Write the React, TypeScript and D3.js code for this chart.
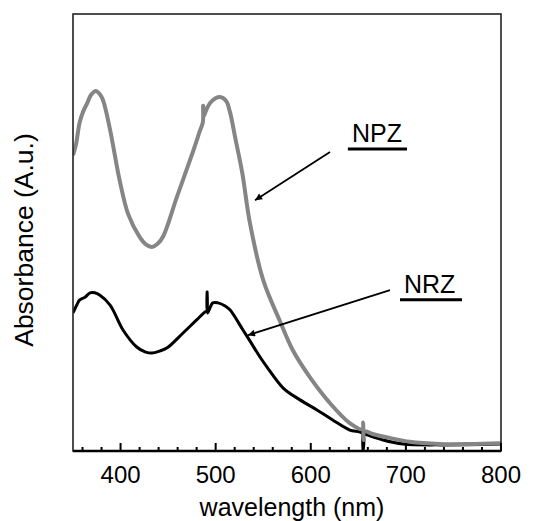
import React from "react";
import * as d3 from "d3";

const npzWavelength = [350, 353, 357, 360.5, 364.7, 369, 374, 378, 381.5, 389, 399, 408, 420, 427, 433, 439, 445, 459, 475, 483.5, 486.5, 486.8, 487.2, 491, 496, 504.5, 511, 515, 521, 528, 536, 550, 567.6, 581, 599, 620, 641, 654.5, 655, 655.5, 656, 665, 683, 704, 736, 767, 800];
const npzAbsorbance = [0.677, 0.70, 0.752, 0.776, 0.795, 0.815, 0.824, 0.817, 0.803, 0.735, 0.62, 0.542, 0.49, 0.472, 0.467, 0.474, 0.492, 0.58, 0.678, 0.733, 0.752, 0.79, 0.765, 0.785, 0.801, 0.81, 0.801, 0.776, 0.712, 0.636, 0.522, 0.391, 0.297, 0.231, 0.169, 0.11, 0.064, 0.05, 0.065, 0.025, 0.045, 0.039, 0.03, 0.021, 0.016, 0.016, 0.018];

const nrzWavelength = [350, 354, 357, 362.6, 368, 373, 378, 389, 402.6, 417, 425.7, 433, 441.5, 449, 465.7, 480, 488.8, 490.6, 491, 491.4, 497, 502.5, 510, 515, 528.7, 536, 546.6, 554, 571, 588.7, 606.5, 623, 641, 654.6, 655, 655.4, 659, 676, 697, 736, 800];
const nrzAbsorbance = [0.316, 0.334, 0.346, 0.352, 0.362, 0.362, 0.357, 0.334, 0.277, 0.238, 0.227, 0.224, 0.229, 0.236, 0.27, 0.3, 0.318, 0.32, 0.364, 0.316, 0.339, 0.339, 0.332, 0.323, 0.277, 0.252, 0.215, 0.192, 0.144, 0.117, 0.094, 0.071, 0.048, 0.04, 0.0, 0.04, 0.037, 0.025, 0.016, 0.014, 0.016];

const xTickValues = [400, 500, 600, 700, 800];
const xMinorTicks = [360, 380, 420, 440, 460, 480, 520, 540, 560, 580, 620, 640, 660, 680, 720, 740, 760, 780];

const labels = [
  { text: "NPZ", wl: 643.3, a: 0.707, ulFrom: 639, ulTo: 701.2, tailWl: 620.2, tailA: 0.684, tipWl: 541.4, tipA: 0.574 },
  { text: "NRZ", wl: 698, a: 0.362, ulFrom: 693.8, ulTo: 759, tailWl: 683.3, tailA: 0.368, tipWl: 534, tipA: 0.265 },
];

const W = 536;
const H = 521;
const M = { left: 73, right: 501, top: 14, bottom: 451 };
const FONT = "'Liberation Sans', Arial, sans-serif";

export default function App() {
  const x = d3.scaleLinear().domain([350, 800]).range([M.left, M.right]);
  const y = d3.scaleLinear().domain([0, 1]).range([M.bottom, M.top]);

  const line = d3
    .line<[number, number]>()
    .x((d) => x(d[0]))
    .y((d) => y(d[1]))
    .curve(d3.curveCatmullRom.alpha(0.5));

  const npz = npzWavelength.map((w, i) => [w, npzAbsorbance[i]] as [number, number]);
  const nrz = nrzWavelength.map((w, i) => [w, nrzAbsorbance[i]] as [number, number]);

  return (
    <svg
      width={W}
      height={H}
      style={{ position: "absolute", left: 0, top: 0, background: "#fff" }}
      fontFamily={FONT}
    >
      <defs>
        <marker id="arrow" viewBox="0 0 10 10" refX="10" refY="5" markerWidth="9" markerHeight="7" markerUnits="userSpaceOnUse" orient="auto">
          <path d="M0,0 L10,5 L0,10 z" fill="#000" />
        </marker>
        <clipPath id="plot">
          <rect x={M.left} y={M.top} width={M.right - M.left} height={M.bottom - M.top} />
        </clipPath>
      </defs>

      <g clipPath="url(#plot)">
        <path d={line(nrz) || ""} fill="none" stroke="#000" strokeWidth={3} strokeLinejoin="round" />
        <path d={line(npz) || ""} fill="none" stroke="#858585" strokeWidth={4} strokeLinejoin="round" />
      </g>

      {/* frame */}
      <rect
        x={M.left}
        y={M.top}
        width={M.right - M.left}
        height={M.bottom - M.top}
        fill="none"
        stroke="#222"
        strokeWidth={1.6}
      />
      <line x1={M.left} x2={M.right} y1={M.bottom} y2={M.bottom} stroke="#000" strokeWidth={2.6} />

      {/* ticks */}
      {xMinorTicks.map((t) => (
        <line key={"m" + t} x1={x(t)} x2={x(t)} y1={M.bottom} y2={M.bottom - 4} stroke="#000" strokeWidth={2} />
      ))}
      {xTickValues.map((t) => (
        <line key={"M" + t} x1={x(t)} x2={x(t)} y1={M.bottom} y2={M.bottom - 8} stroke="#000" strokeWidth={2} />
      ))}
      {xTickValues.map((t) => (
        <text key={"l" + t} x={x(t)} y={483} textAnchor="middle" fontSize={24} fill="#000">
          {t}
        </text>
      ))}

      <text x={292} y={516} textAnchor="middle" fontSize={25} fill="#000">
        wavelength (nm)
      </text>
      <text
        transform={`translate(33,240) rotate(-90)`}
        textAnchor="middle"
        fontSize={26.5}
        fill="#000"
      >
        Absorbance (A.u.)
      </text>

      {/* annotations */}
      {labels.map((l) => (
        <g key={l.text}>
          <line
            x1={x(l.tailWl)}
            y1={y(l.tailA)}
            x2={x(l.tipWl)}
            y2={y(l.tipA)}
            stroke="#000"
            strokeWidth={1.8}
            markerEnd="url(#arrow)"
          />
          <text x={x(l.wl)} y={y(l.a)} fontSize={25} fill="#000">
            {l.text}
          </text>
          <line x1={x(l.ulFrom)} x2={x(l.ulTo)} y1={y(l.a) + 7} y2={y(l.a) + 7} stroke="#000" strokeWidth={3} />
        </g>
      ))}
    </svg>
  );
}
